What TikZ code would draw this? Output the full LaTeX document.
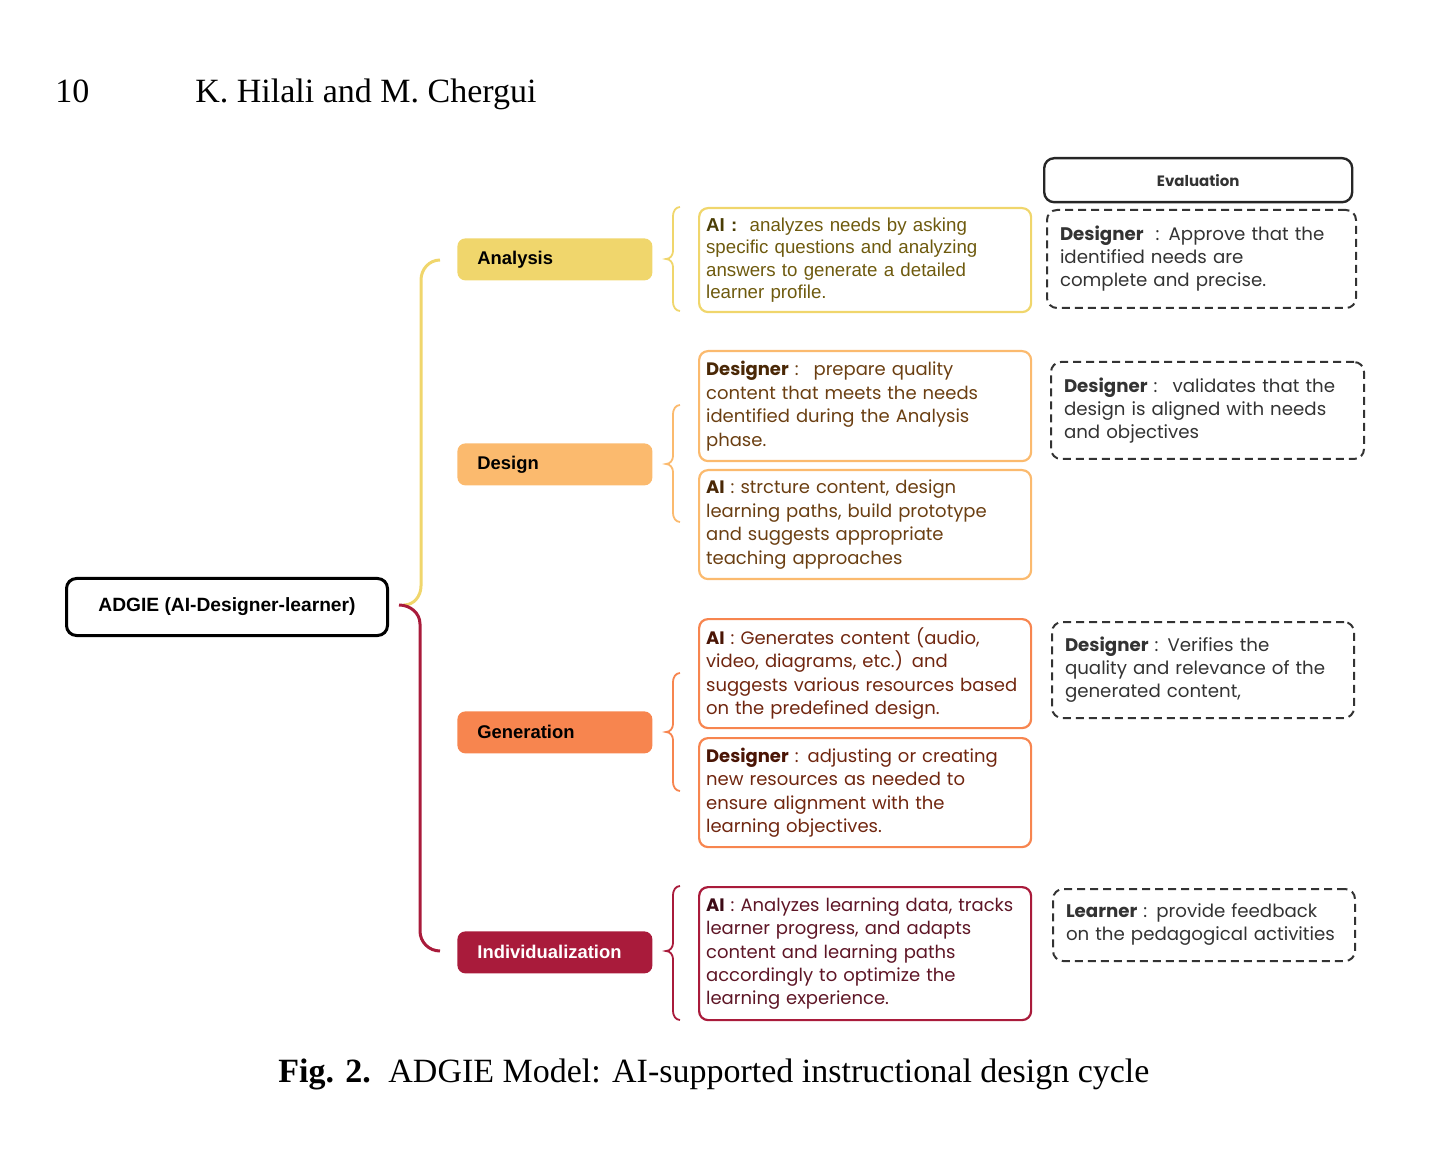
\documentclass[tikz,border=0pt]{standalone}
\usepackage{fontspec}
\setmainfont{Liberation Serif}
\newfontfamily\arialf{Liberation Sans}
\newfontfamily\montf{Poppins}
\definecolor{cyel}{HTML}{F0D66C}
\definecolor{cdes}{HTML}{FBBA6E}
\definecolor{cgen}{HTML}{F7854F}
\definecolor{cind}{HTML}{A91B3B}
\definecolor{tyel}{HTML}{6E5A0E}
\definecolor{byel}{HTML}{4A3D05}
\definecolor{tdes}{HTML}{6B3F12}
\definecolor{bdes}{HTML}{4A2806}
\definecolor{tgen}{HTML}{70260F}
\definecolor{bgen}{HTML}{4A1505}
\definecolor{tind}{HTML}{5E1626}
\definecolor{bind}{HTML}{3D0B16}
\definecolor{teval}{HTML}{333333}
\newcommand\smallbrace[4]{%
  \draw[#1,line width=0.9pt] (680,#2) to[out=180,in=90] (673,#2+9) -- (673,#3-8)
    to[out=-90,in=0] (666,#3) to[out=0,in=90] (673,#3+8) -- (673,#4-9)
    to[out=-90,in=180] (680,#4);}
\begin{document}
\begin{tikzpicture}[x=0.5pt,y=-0.5pt,
  phase/.style={rounded corners=4pt, minimum height=21pt, text width=77.5pt,
    inner xsep=10pt, align=left, anchor=north west,
    font=\arialf\bfseries\fontsize{9.2}{11}\selectfont},
  content/.style={draw, line width=1.1pt, rounded corners=4.5pt, text width=159pt,
    inner xsep=3.5pt, inner ysep=0pt, align=left, anchor=north west,
    font=\montf\fontsize{9}{11.7}\selectfont},
  evalbox/.style={draw=black!80, dash pattern=on 4pt off 2.5pt, line width=1pt,
    rounded corners=5pt, inner xsep=6.5pt, inner ysep=0pt, align=left,
    anchor=north west, text=teval, font=\montf\fontsize{9.1}{11.5}\selectfont},
  bigbrace/.style={line width=1.5pt}
]
\useasboundingbox (0,0) rectangle (1456,1149);
% header
\node[anchor=base west, inner sep=0pt, font=\fontsize{17}{20}\selectfont] (pg) at (55,103) {10};
\node[anchor=base west, inner sep=0pt, font=\fontsize{17}{20}\selectfont] (auth) at (195,103) {K. Hilali and M. Chergui};
% root
\node[draw, line width=1.5pt, rounded corners=5pt, minimum width=160.5pt, minimum height=28.5pt,
  anchor=north west, font=\arialf\bfseries\fontsize{9.6}{11}\selectfont] (root) at (65,577) {ADGIE (AI-Designer-learner)};
% phases
\node[phase, fill=cyel] (ana) at (457,238) {Analysis};
\node[phase, fill=cdes] (des) at (457,443) {Design};
\node[phase, fill=cgen] (gen) at (457,711) {Generation};
\node[phase, fill=cind, text=white] (ind) at (457,931) {Individualization};
% big braces
\coordinate (yA) at (440,260);
\coordinate (yB) at (404,605);
\coordinate (rA) at (399,605);
\coordinate (rB) at (440,951);
\draw[bigbrace, cyel] (yA) to[out=180,in=90] (421,280) -- (421,586) to[out=-90,in=0] (yB);
\draw[bigbrace, cind] (rA) to[out=0,in=90] (420,624) -- (420,931) to[out=-90,in=180] (rB);
% small braces
\smallbrace{cyel}{207}{259}{311}
\smallbrace{cdes}{405}{464}{522}
\smallbrace{cgen}{673}{732}{791}
\smallbrace{cind}{886}{951}{1020}
% content boxes
\node[content, draw=cyel, text=tyel, minimum height=52pt,
  font=\arialf\fontsize{9.35}{11.2}\selectfont] (a1) at (698,207)
  {\textcolor{byel}{\textbf{AI :}}~ analyzes needs by asking\\specific questions and analyzing\\answers to generate a detailed\\learner profile.};
\node[content, draw=cdes, text=tdes, minimum height=55pt] (d1) at (698,350)
  {\textcolor{bdes}{\textbf{Designer}} :~ prepare quality\\content that meets the needs\\identified during the Analysis\\phase.};
\node[content, draw=cdes, text=tdes, minimum height=54.5pt] (d2) at (698,469)
  {\textcolor{bdes}{\textbf{AI}} : strcture content, design\\learning paths, build prototype\\and suggests appropriate\\teaching approaches};
\node[content, draw=cgen, text=tgen, minimum height=54.5pt] (g1) at (698,618)
  {\textcolor{bgen}{\textbf{AI}} : Generates content (audio,\\video, diagrams, etc.) and\\suggests various resources based\\on the predefined design.};
\node[content, draw=cgen, text=tgen, minimum height=54.5pt] (g2) at (698,737)
  {\textcolor{bgen}{\textbf{Designer}} : adjusting or creating\\new resources as needed to\\ensure alignment with the\\learning objectives.};
\node[content, draw=cind, text=tind, minimum height=66.5pt] (i1) at (698,886)
  {\textcolor{bind}{\textbf{AI}} : Analyzes learning data, tracks\\learner progress, and adapts\\content and learning paths\\accordingly to optimize the\\learning experience.};
% evaluation
\node[draw=black!85, line width=1.2pt, rounded corners=5pt, minimum width=154pt, minimum height=22pt,
  anchor=north west, text=teval, font=\montf\bfseries\fontsize{7.5}{9}\selectfont] (ev) at (1043,157) {Evaluation};
\node[evalbox, text width=141.5pt, minimum height=49pt] (e1) at (1046,209)
  {\textbf{Designer}~ : Approve that the\\identified needs are\\complete and precise.};
\node[evalbox, text width=143.5pt, minimum height=48.5pt] (e2) at (1050,361)
  {\textbf{Designer} :~ validates that the\\design is aligned with needs\\and objectives};
\node[evalbox, text width=138pt, minimum height=48pt] (e3) at (1051,621)
  {\textbf{Designer} : Verifies the\\quality and relevance of the\\generated content,};
\node[evalbox, text width=138pt, minimum height=36pt] (e4) at (1052,888)
  {\textbf{Learner} : provide feedback\\on the pedagogical activities};
% caption
\node[anchor=base west, inner sep=0pt, font=\bfseries\fontsize{17}{20}\selectfont] (figl) at (278,1082) {Fig. 2.};
\node[anchor=base west, inner sep=0pt, font=\fontsize{17}{20}\selectfont] (cap) at (388,1082) {ADGIE Model: AI-supported instructional design cycle};
\end{tikzpicture}
\end{document}
